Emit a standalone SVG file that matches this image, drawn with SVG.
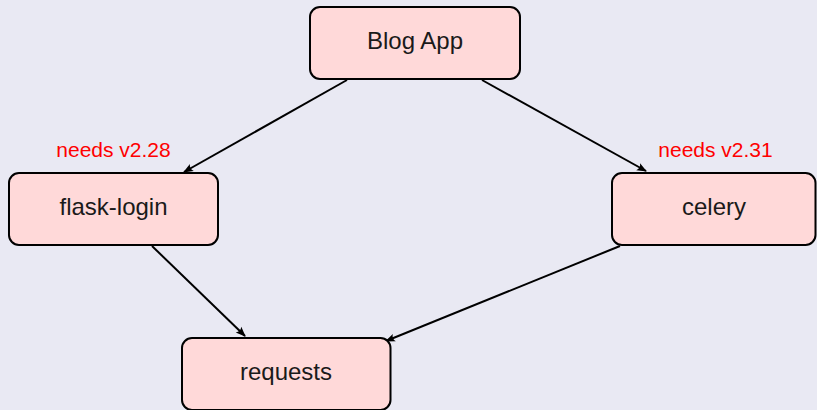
<svg xmlns="http://www.w3.org/2000/svg" width="817" height="410" viewBox="0 0 817 410">
  <style>
    .box { fill: #ffd9d9; stroke: #000000; stroke-width: 2; }
    .label { font-family: "Liberation Sans", Arial, sans-serif; font-size: 24px; fill: #1a1a1a; text-anchor: middle; }
    .note { font-family: "Liberation Sans", Arial, sans-serif; font-size: 21px; fill: #ff0000; text-anchor: middle; }
    .edge { fill: none; stroke: #000000; stroke-width: 2; marker-end: url(#tip); }
  </style>
  <defs>
    <marker id="tip" viewBox="-10 -5 12 10" refX="0" refY="0" markerWidth="12" markerHeight="10" markerUnits="userSpaceOnUse" orient="auto">
      <path d="M1,0 L-9,-4 Q-6,0 -9,4 Z" fill="#000000"/>
    </marker>
  </defs>
  <rect width="817" height="410" fill="#e9e9f3"/>

  <g id="edges">
    <line class="edge" x1="347" y1="80" x2="184" y2="172"/>
    <line class="edge" x1="482" y1="80" x2="646" y2="171"/>
    <line class="edge" x1="152" y1="246" x2="245" y2="336"/>
    <line class="edge" x1="620" y1="246" x2="386" y2="341"/>
  </g>

  <g id="blog-app">
    <rect class="box" x="310" y="7" width="210" height="72" rx="10"/>
    <text class="label" x="415" y="49">Blog App</text>
  </g>

  <g id="flask-login">
    <rect class="box" x="9" y="173" width="209" height="72" rx="10"/>
    <text class="label" x="113.5" y="215">flask-login</text>
    <text class="note" x="113.5" y="157">needs v2.28</text>
  </g>

  <g id="celery">
    <rect class="box" x="612" y="173" width="203.5" height="72" rx="10"/>
    <text class="label" x="714" y="215">celery</text>
    <text class="note" x="715.5" y="157">needs v2.31</text>
  </g>

  <g id="requests">
    <rect class="box" x="182" y="338" width="208.5" height="72" rx="10"/>
    <text class="label" x="286" y="380">requests</text>
  </g>
</svg>
